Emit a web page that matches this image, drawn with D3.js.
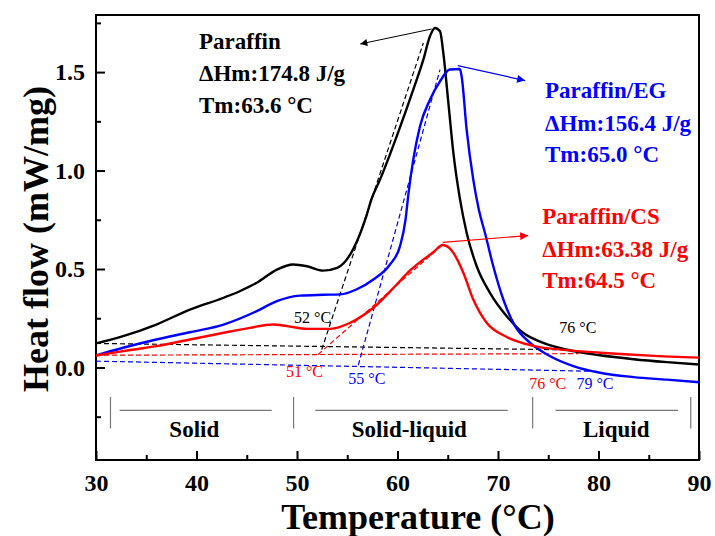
<!DOCTYPE html>
<html>
<head>
<meta charset="utf-8">
<script src="https://cdn.jsdelivr.net/npm/d3@7"></script>
<style>
  body { margin: 0; background: #fff; }
  svg { font-family: "Times New Roman", "Liberation Serif", serif; }
</style>
</head>
<body>
<svg width="715" height="536"></svg>
<script>
// DSC melting curves: temperature (°C) against heat flow (mW/mg)
var paraffinT  = [30, 32.7, 36, 39.35, 42.7, 44.3, 46, 48, 49.6, 51, 52.6, 54, 55.3, 55.9, 56.9, 57.4, 58.26, 59.92, 61.57, 62.57, 63.23, 63.73, 64.23, 64.56, 65.06, 65.56, 66.2, 66.88, 67.88, 69.2, 70.87, 72.5, 74.5, 76.8, 80.15, 83.5, 86.8, 90];
var paraffinHF = [0.122, 0.159, 0.218, 0.294, 0.354, 0.387, 0.43, 0.497, 0.523, 0.514, 0.492, 0.506, 0.574, 0.633, 0.768, 0.853, 0.954, 1.174, 1.411, 1.563, 1.682, 1.724, 1.707, 1.597, 1.345, 1.09, 0.86, 0.684, 0.514, 0.379, 0.26, 0.176, 0.125, 0.091, 0.062, 0.042, 0.027, 0.015];

var egT  = [30, 32.7, 36, 39.35, 42.7, 46, 48, 50.3, 52.6, 54.3, 55.9, 57.6, 59.25, 60.25, 60.8, 61.1, 61.57, 62.24, 63.23, 64.23, 65.2, 66.2, 66.38, 66.88, 67.54, 68.1, 68.7, 69.53, 70.53, 71.7, 73.2, 75.2, 77.5, 80.15, 83.5, 86.8, 90];
var egHF = [0.061, 0.1, 0.142, 0.179, 0.218, 0.286, 0.337, 0.365, 0.369, 0.371, 0.396, 0.447, 0.523, 0.616, 0.751, 0.887, 1.056, 1.225, 1.36, 1.453, 1.513, 1.516, 1.479, 1.208, 0.954, 0.8, 0.684, 0.514, 0.345, 0.21, 0.125, 0.057, 0.007, -0.027, -0.049, -0.062, -0.075];

var csT  = [30, 32.7, 36, 39.35, 42.7, 45.3, 47.6, 49, 51, 53.3, 55.3, 57.6, 59.9, 61.2, 62.5, 63.56, 64.5, 65.2, 65.56, 66.55, 67.54, 68.87, 70.87, 73.5, 76.8, 80.15, 85.1, 90];
var csHF = [0.061, 0.083, 0.108, 0.142, 0.176, 0.201, 0.218, 0.21, 0.196, 0.196, 0.227, 0.303, 0.42, 0.49, 0.545, 0.585, 0.622, 0.605, 0.582, 0.481, 0.345, 0.227, 0.155, 0.11, 0.088, 0.075, 0.06, 0.05];

// baselines and onset tangents [[T, HF], [T, HF]]
var paraffinBase = [[30, 0.122], [76.5, 0.09]];
var egBase       = [[30, 0.032], [80, -0.02]];
var csBase       = [[30, 0.062], [78, 0.07]];
var paraffinTan  = [[52.46, 0.091], [62.57, 1.648]];
var egTan        = [[56.1, 0.012], [64.23, 1.513]];
var csTan        = [[52.1, 0.066], [64.5, 0.624]];

var xTicks = [30, 40, 50, 60, 70, 80, 90];
var yTicks = [0.0, 0.5, 1.0, 1.5];

var svg = d3.select("svg"),
    margin = {top: 15, right: 16, bottom: 76, left: 96},
    width = +svg.attr("width") - margin.left - margin.right,
    height = +svg.attr("height") - margin.top - margin.bottom,
    g = svg.append("g").attr("transform", "translate(" + margin.left + "," + margin.top + ")");

var x = d3.scaleLinear().domain([30, 90]).range([0, width]);
var y = d3.scaleLinear().domain([-0.47, 1.79]).range([height, 0]);

var defs = svg.append("defs");
defs.append("clipPath").attr("id", "plot")
  .append("rect").attr("width", width).attr("height", height);

function arrowMarker(id, color, len, wid) {
  defs.append("marker")
      .attr("id", id)
      .attr("viewBox", "0 0 10 10")
      .attr("refX", 10).attr("refY", 5)
      .attr("markerUnits", "userSpaceOnUse")
      .attr("markerWidth", len).attr("markerHeight", wid)
      .attr("orient", "auto")
    .append("path")
      .attr("d", "M0,0L10,5L0,10z")
      .attr("fill", color);
}
arrowMarker("arrBlack", "#000", 11, 7);
arrowMarker("arrBlue", "#0000ff", 14, 8);
arrowMarker("arrRed", "#ff0000", 14, 8);

// axes, ticks pointing inward
g.append("g").attr("transform", "translate(0," + height + ")")
  .call(d3.axisBottom(x).tickValues(xTicks).tickSizeInner(-9).tickSizeOuter(0).tickPadding(14).tickFormat(d3.format("d")));
g.append("g").attr("transform", "translate(0," + height + ")")
  .call(d3.axisBottom(x).tickValues([35, 45, 55, 65, 75, 85]).tickSize(-5).tickFormat(""));
g.append("g")
  .call(d3.axisLeft(y).tickValues(yTicks).tickSizeInner(-9).tickSizeOuter(0).tickPadding(11).tickFormat(d3.format(".1f")));
g.append("g")
  .call(d3.axisLeft(y).tickValues([-0.25, 0.25, 0.75, 1.25, 1.75]).tickSize(-5).tickFormat(""));

g.selectAll(".domain").remove();
g.selectAll(".tick line").attr("stroke", "#000").attr("stroke-width", 2);
g.selectAll(".tick text")
  .attr("font-family", "'Times New Roman', 'Liberation Serif', serif")
  .attr("font-size", 24).attr("font-weight", "bold").attr("fill", "#000");

g.append("rect")
  .attr("width", width).attr("height", height)
  .attr("fill", "none").attr("stroke", "#000").attr("stroke-width", 2);

var line = d3.line()
  .x(function(d) { return x(d[0]); })
  .y(function(d) { return y(d[1]); })
  .curve(d3.curveMonotoneX);

var plot = g.append("g").attr("clip-path", "url(#plot)");

// dashed baselines and tangents
[[paraffinBase, "#000"], [egBase, "#0000ff"], [csBase, "#ff0000"],
 [paraffinTan, "#000"], [egTan, "#0000ff"], [csTan, "#ff0000"]].forEach(function(s) {
  plot.append("path")
      .attr("d", d3.line().x(function(d) { return x(d[0]); }).y(function(d) { return y(d[1]); })(s[0]))
      .attr("fill", "none")
      .attr("stroke", s[1])
      .attr("stroke-width", 1.2)
      .attr("stroke-dasharray", "5,3");
});

// the three curves
var curves = [
  {t: paraffinT, v: paraffinHF, color: "#000"},
  {t: egT, v: egHF, color: "#0000ff"},
  {t: csT, v: csHF, color: "#ff0000"}
];
curves.forEach(function(c) {
  plot.append("path")
      .attr("d", line(d3.zip(c.t, c.v)))
      .attr("fill", "none")
      .attr("stroke", c.color)
      .attr("stroke-width", 2.4)
      .attr("stroke-linejoin", "round");
});

// arrows from peaks to the labels
var arrows = [
  {from: [63.4, 1.719], to: [56.3, 1.643], color: "#000", w: 1, m: "arrBlack"},
  {from: [66.0, 1.533], to: [72.7, 1.457], color: "#0000ff", w: 1.2, m: "arrBlue"},
  {from: [64.5, 0.635], to: [73.0, 0.670], color: "#ff0000", w: 1.2, m: "arrRed"}
];
arrows.forEach(function(a) {
  g.append("line")
      .attr("x1", x(a.from[0])).attr("y1", y(a.from[1]))
      .attr("x2", x(a.to[0])).attr("y2", y(a.to[1]))
      .attr("stroke", a.color).attr("stroke-width", a.w)
      .attr("marker-end", "url(#" + a.m + ")");
});

// sample labels
var labels = [
  {t: 40.25, v: [1.619, 1.454, 1.294], color: "#000", lines: ["Paraffin", "\u0394Hm:174.8 J/g", "Tm:63.6 \u00B0C"]},
  {t: 74.68, v: [1.371, 1.203, 1.041], color: "#0000ff", lines: ["Paraffin/EG", "\u0394Hm:156.4 J/g", "Tm:65.0 \u00B0C"]},
  {t: 74.4, v: [0.731, 0.563, 0.401], color: "#ff0000", lines: ["Paraffin/CS", "\u0394Hm:63.38 J/g", "Tm:64.5 \u00B0C"]}
];
labels.forEach(function(l) {
  l.lines.forEach(function(s, i) {
    g.append("text")
        .attr("x", x(l.t)).attr("y", y(l.v[i]))
        .attr("font-size", 23).attr("font-weight", "bold")
        .attr("fill", l.color)
        .text(s);
  });
});

// onset / endset temperatures
var tempLabels = [
  {t: 49.7, v: 0.228, text: "52 \u00B0C", color: "#000"},
  {t: 48.9, v: -0.046, text: "51 \u00B0C", color: "#ff0000"},
  {t: 55.1, v: -0.086, text: "55 \u00B0C", color: "#0000ff"},
  {t: 76.1, v: 0.173, text: "76 \u00B0C", color: "#000"},
  {t: 73.1, v: -0.107, text: "76 \u00B0C", color: "#ff0000"},
  {t: 77.8, v: -0.107, text: "79 \u00B0C", color: "#0000ff"}
];
g.selectAll(".tlabel")
  .data(tempLabels)
  .enter().append("text")
    .attr("class", "tlabel")
    .attr("x", function(d) { return x(d.t); })
    .attr("y", function(d) { return y(d.v); })
    .attr("font-size", 16)
    .attr("fill", function(d) { return d.color; })
    .text(function(d) { return d.text; });

// phase regions under the curves
var phaseSeps = [31.44, 49.66, 73.45, 89.18];
var phases = [
  {name: "Solid", from: 32.35, to: 47.49, mid: 39.78},
  {name: "Solid-liquid", from: 51.82, to: 70.97, mid: 61.18},
  {name: "Liquid", from: 75.73, to: 87.91, mid: 81.77}
];
var phase = g.append("g");
phaseSeps.forEach(function(t) {
  phase.append("line")
      .attr("x1", x(t)).attr("x2", x(t))
      .attr("y1", y(-0.15)).attr("y2", y(-0.31))
      .attr("stroke", "#777").attr("stroke-width", 1.2);
});
phases.forEach(function(p) {
  phase.append("line")
      .attr("x1", x(p.from)).attr("x2", x(p.to))
      .attr("y1", y(-0.218)).attr("y2", y(-0.218))
      .attr("stroke", "#777").attr("stroke-width", 1.2);
  phase.append("text")
      .attr("x", x(p.mid)).attr("y", y(-0.352))
      .attr("text-anchor", "middle")
      .attr("font-size", 23).attr("font-weight", "bold")
      .text(p.name);
});

// axis titles
svg.append("text")
    .attr("x", 418).attr("y", 529)
    .attr("text-anchor", "middle")
    .attr("font-size", 36).attr("font-weight", "bold")
    .text("Temperature (\u00B0C)");
svg.append("text")
    .attr("transform", "translate(48," + (margin.top + 224) + ") rotate(-90)")
    .attr("text-anchor", "middle")
    .attr("font-size", 36).attr("font-weight", "bold")
    .text("Heat flow (mW/mg)");
</script>
</body>
</html>
